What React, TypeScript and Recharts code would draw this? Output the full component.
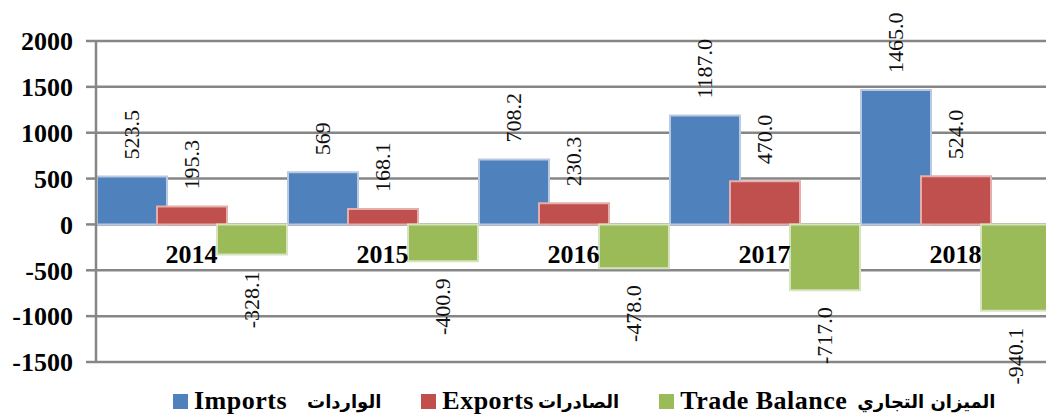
import {
  BarChart,
  Bar,
  XAxis,
  YAxis,
  CartesianGrid,
  Legend,
  LabelList,
} from "recharts";

const years = ["2014", "2015", "2016", "2017", "2018"];
const imports = [523.5, 569, 708.2, 1187.0, 1465.0];
const exportsVals = [195.3, 168.1, 230.3, 470.0, 524.0];
const tradeBalance = [-328.1, -400.9, -478.0, -717.0, -940.1];
const importLabels = ["523.5", "569", "708.2", "1187.0", "1465.0"];
const exportLabels = ["195.3", "168.1", "230.3", "470.0", "524.0"];
const balanceLabels = ["-328.1", "-400.9", "-478.0", "-717.0", "-940.1"];
const yTicks = [-1500, -1000, -500, 0, 500, 1000, 1500, 2000];

const series = [
  { key: "imports", en: "Imports", ar: "الواردات", color: "#4F81BD", edge: "#b9c9e1", labels: importLabels, arGap: 20 },
  { key: "exports", en: "Exports", ar: "الصادرات", color: "#C0504D", edge: "#e3aeac", labels: exportLabels, arGap: 4 },
  { key: "balance", en: "Trade Balance", ar: "الميزان التجاري", color: "#9BBB59", edge: "#d6e3be", labels: balanceLabels, arGap: 10 },
];

const data = years.map((year, i) => ({
  year,
  imports: imports[i],
  exports: exportsVals[i],
  balance: tradeBalance[i],
}));

const serif = "'Liberation Serif', 'Times New Roman', serif";
const gridColor = "#868686";

const makeLabel = (labels: string[]) => (props: any) => {
  const { x, y, width, height, value, index } = props;
  const cx = Number(x) + Number(width) / 2;
  const top = Math.min(Number(y), Number(y) + Number(height));
  const bottom = Math.max(Number(y), Number(y) + Number(height));
  const neg = Number(value) < 0;
  const py = neg ? bottom + 17 : top - 17;
  return (
    <text
      x={cx}
      y={py}
      transform={`rotate(-90 ${cx} ${py})`}
      textAnchor={neg ? "end" : "start"}
      dominantBaseline="central"
      fontFamily={serif}
      fontSize={22}
      fill="#111"
    >
      {labels[index]}
    </text>
  );
};

const YearTick = (props: any) => {
  const { x, y, payload } = props;
  return (
    <text
      x={x}
      y={y - 116}
      textAnchor="middle"
      dominantBaseline="central"
      fontFamily={serif}
      fontWeight="bold"
      fontSize={26}
      fill="#000"
    >
      {payload.value}
    </text>
  );
};

const renderLegend = () => (
  <div
    style={{
      display: "flex",
      alignItems: "center",
      height: 36,
      paddingLeft: 173,
      fontFamily: serif,
      color: "#000",
    }}
  >
    {series.map((s) => (
      <div key={s.key} style={{ display: "flex", alignItems: "center", marginRight: 40 }}>
        <span style={{ width: 15, height: 15, background: s.color, marginRight: 6, display: "inline-block" }} />
        <span style={{ fontWeight: "bold", fontSize: 26, letterSpacing: 0.5 }}>{s.en}</span>
        <span
          style={{
            fontFamily: "'DejaVu Sans', 'Noto Sans', sans-serif",
            fontWeight: "bold",
            fontSize: 18,
            marginLeft: s.arGap,
          }}
        >
          {s.ar}
        </span>
      </div>
    ))}
  </div>
);

export default function App() {
  return (
    <div style={{ position: "absolute", left: 0, top: 0, width: 1046, height: 419, overflow: "hidden", background: "#fff" }}>
      <BarChart
        width={1060}
        height={419}
        data={data}
        margin={{ top: 41, right: 9, left: 0, bottom: 0 }}
        barCategoryGap={0}
        barGap={-10}
        barSize={70}
      >
        <CartesianGrid vertical={false} stroke={gridColor} strokeWidth={2.5} />
        <XAxis dataKey="year" axisLine={false} tickLine={false} height={21} tick={<YearTick />} interval={0} />
        <YAxis
          width={96}
          domain={[-1500, 2000]}
          ticks={yTicks}
          axisLine={{ stroke: gridColor, strokeWidth: 2.5 }}
          tickLine={{ stroke: gridColor, strokeWidth: 2.5 }}
          tickSize={10}
          tickMargin={13}
          tick={{ fontFamily: serif, fontWeight: "bold", fontSize: 26, fill: "#000" }}
        />
        <Legend verticalAlign="bottom" height={36} content={renderLegend} />
        {series.map((s) => (
          <Bar
            key={s.key}
            dataKey={s.key}
            name={s.en}
            fill={s.color}
            stroke={s.edge}
            strokeWidth={2}
            isAnimationActive={false}
          >
            <LabelList dataKey={s.key} content={makeLabel(s.labels)} />
          </Bar>
        ))}
      </BarChart>
    </div>
  );
}
